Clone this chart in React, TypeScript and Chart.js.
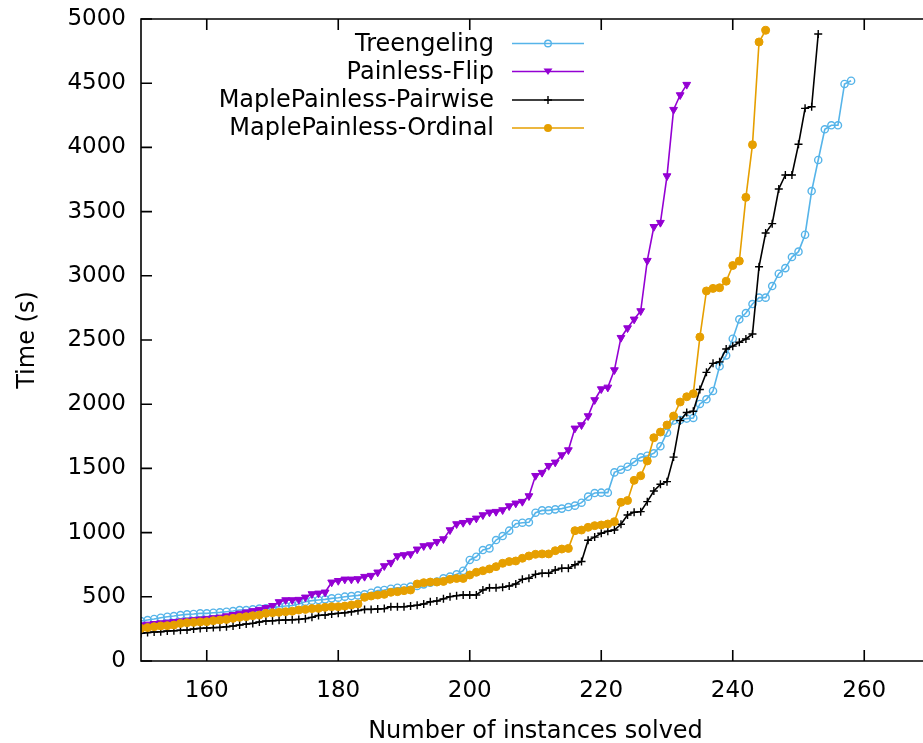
import React, { useEffect, useRef } from "react";
import { Chart, registerables } from "chart.js";

Chart.register(...registerables);

const START_X = 150;
const X_TICKS = [160, 180, 200, 220, 240, 260];
const Y_MAX = 5000;
const Y_STEP = 500;
const X_LABEL = "Number of instances solved";
const Y_LABEL = "Time (s)";

const seriesNames = ["Treengeling", "Painless-Flip", "MaplePainless-Pairwise", "MaplePainless-Ordinal"];
const seriesColors = ["#56B4E9", "#9400D3", "#000000", "#E69F00"];

const treengeling = [
  311, 319, 327, 337, 345, 350, 358, 363, 366, 371,
  371, 376, 379, 384, 389, 397, 397, 402, 408, 410,
  415, 423, 428, 432, 444, 462, 470, 475, 480, 488,
  493, 501, 506, 511, 519, 532, 548, 553, 563, 571,
  571, 579, 584, 597, 610, 618, 644, 657, 675, 703,
  787, 812, 864, 877, 942, 973, 1015, 1069, 1077, 1080,
  1155, 1173, 1173, 1181, 1187, 1199, 1210, 1233, 1280, 1308,
  1311, 1311, 1469, 1490, 1513, 1550, 1586, 1599, 1617, 1672,
  1778, 1873, 1877, 1888, 1893, 2002, 2038, 2103, 2295, 2380,
  2510, 2661, 2710, 2780, 2830, 2830, 2920, 3016, 3060, 3146,
  3188, 3320, 3660, 3902, 4141, 4172, 4172, 4494, 4519,
];

const painlessFlip = [
  280, 285, 290, 295, 300, 305, 310, 315, 320, 325,
  330, 335, 340, 350, 360, 370, 380, 390, 400, 415,
  430, 460, 475, 475, 478, 496, 522, 527, 535, 613,
  625, 636, 636, 639, 657, 665, 691, 740, 766, 818,
  826, 833, 870, 896, 903, 929, 950, 1020, 1067, 1077,
  1093, 1111, 1137, 1158, 1163, 1176, 1207, 1228, 1241, 1285,
  1443, 1467, 1521, 1547, 1604, 1643, 1812, 1838, 1908, 2033,
  2118, 2131, 2266, 2518, 2593, 2661, 2726, 3118, 3382, 3414,
  3777, 4294, 4408, 4489,
];

const pairwise = [
  215, 221, 226, 228, 234, 236, 239, 241, 249, 254,
  257, 260, 262, 267, 273, 280, 288, 293, 304, 311,
  314, 317, 319, 321, 324, 330, 340, 355, 358, 366,
  371, 376, 384, 392, 402, 402, 405, 408, 423, 423,
  423, 428, 434, 444, 462, 467, 484, 501, 509, 514,
  514, 514, 553, 571, 571, 574, 584, 600, 636, 644,
  675, 683, 683, 709, 722, 722, 750, 775, 940, 965,
  995, 1010, 1020, 1065, 1137, 1158, 1163, 1241, 1324, 1376,
  1397, 1588, 1872, 1935, 1945, 2114, 2248, 2318, 2330, 2430,
  2452, 2482, 2508, 2547, 3071, 3333, 3406, 3676, 3785, 3785,
  4024, 4304, 4317, 4883,
];

const ordinal = [
  254, 260, 267, 273, 275, 280, 293, 298, 301, 304,
  306, 314, 319, 324, 332, 340, 345, 353, 358, 371,
  376, 379, 384, 388, 397, 402, 408, 410, 418, 423,
  423, 428, 436, 444, 496, 506, 514, 519, 535, 540,
  548, 553, 600, 610, 615, 615, 620, 636, 643, 643,
  670, 691, 703, 717, 735, 761, 774, 779, 800, 818,
  831, 834, 834, 859, 872, 877, 1015, 1020, 1041, 1054,
  1059, 1067, 1085, 1236, 1250, 1407, 1443, 1558, 1739, 1783,
  1838, 1908, 2017, 2058, 2082, 2523, 2882, 2902, 2907, 2958,
  3080, 3115, 3611, 4021, 4821, 4912,
];

const seriesValues = [treengeling, painlessFlip, pairwise, ordinal];

const FONT = "DejaVu Sans";
const FS = 23;
const FS_TEXT = 24;

function drawMarker(ctx: CanvasRenderingContext2D, idx: number, x: number, y: number, color: string) {
  ctx.save();
  ctx.strokeStyle = color;
  ctx.fillStyle = color;
  ctx.lineWidth = 1.4;
  ctx.beginPath();
  if (idx === 0) {
    ctx.arc(x, y, 3.3, 0, Math.PI * 2);
    ctx.stroke();
  } else if (idx === 1) {
    ctx.moveTo(x - 4.5, y - 3);
    ctx.lineTo(x + 4.5, y - 3);
    ctx.lineTo(x, y + 3.5);
    ctx.closePath();
    ctx.fill();
  } else if (idx === 2) {
    ctx.moveTo(x - 4, y);
    ctx.lineTo(x + 4, y);
    ctx.moveTo(x, y - 4);
    ctx.lineTo(x, y + 4);
    ctx.stroke();
  } else {
    ctx.arc(x, y, 4, 0, Math.PI * 2);
    ctx.fill();
  }
  ctx.restore();
}

const framePlugin = {
  id: "gnuplotFrame",
  afterDraw(chart: any) {
    const ctx: CanvasRenderingContext2D = chart.ctx;
    const a = chart.chartArea;
    const xs = chart.scales.x;
    const ys = chart.scales.y;
    ctx.save();
    ctx.strokeStyle = "#000";
    ctx.lineWidth = 1.6;
    ctx.beginPath();
    ctx.rect(a.left, a.top, a.right - a.left, a.bottom - a.top);
    ctx.stroke();
    const TL = 11;
    ctx.beginPath();
    for (let v = 0; v <= Y_MAX; v += Y_STEP) {
      const py = ys.getPixelForValue(v);
      ctx.moveTo(a.left, py);
      ctx.lineTo(a.left + TL, py);
    }
    for (const v of X_TICKS) {
      const px = xs.getPixelForValue(v);
      ctx.moveTo(px, a.bottom);
      ctx.lineTo(px, a.bottom - TL);
      ctx.moveTo(px, a.top);
      ctx.lineTo(px, a.top + TL);
    }
    ctx.stroke();

    // legend
    ctx.font = `${FS_TEXT}px "${FONT}"`;
    ctx.fillStyle = "#000";
    ctx.textAlign = "right";
    ctx.textBaseline = "middle";
    const rowsY = [43.5, 71.5, 100, 128];
    seriesNames.forEach((name, i) => {
      const y = rowsY[i];
      ctx.fillStyle = "#000";
      ctx.fillText(name, 494, y + 1);
      ctx.strokeStyle = seriesColors[i];
      ctx.lineWidth = 1.6;
      ctx.beginPath();
      ctx.moveTo(512, y);
      ctx.lineTo(584, y);
      ctx.stroke();
      drawMarker(ctx, i, 548, y, seriesColors[i]);
    });

    // axis titles
    ctx.fillStyle = "#000";
    ctx.textAlign = "center";
    ctx.textBaseline = "middle";
    ctx.fillText(X_LABEL, (a.left + a.right) / 2, 732);
    ctx.translate(28, (a.top + a.bottom) / 2);
    ctx.rotate(-Math.PI / 2);
    ctx.fillText(Y_LABEL, 0, 0);
    ctx.restore();
  },
};

const pointStyles: any[] = ["circle", "triangle", "cross", "circle"];

export default function App() {
  const ref = useRef<HTMLCanvasElement>(null);
  useEffect(() => {
    if (!ref.current) return;
    Chart.defaults.font.family = FONT;
    const datasets = seriesNames.map((name, i) => ({
      label: name,
      data: seriesValues[i].map((v, k) => ({ x: START_X + k, y: v })),
      borderColor: seriesColors[i],
      backgroundColor: i === 0 ? "rgba(0,0,0,0)" : seriesColors[i],
      pointBorderColor: seriesColors[i],
      pointBackgroundColor: i === 0 ? "rgba(0,0,0,0)" : seriesColors[i],
      borderWidth: 1.6,
      pointStyle: pointStyles[i],
      pointRotation: i === 1 ? 180 : 0,
      pointRadius: i === 0 ? 3.6 : i === 1 ? 4.5 : i === 2 ? 4 : 4,
      pointBorderWidth: i === 0 ? 1.4 : i === 2 ? 1.4 : 1,
      tension: 0,
      fill: false,
      clip: 0,
      order: 4 - i,
    }));
    const chart = new Chart(ref.current, {
      type: "line",
      data: { datasets },
      options: {
        responsive: false,
        animation: false,
        events: [],
        layout: { padding: { left: 0, top: 19, right: 10, bottom: 0 } },
        plugins: { legend: { display: false }, tooltip: { enabled: false } },
        scales: {
          x: {
            type: "linear",
            min: 150,
            max: 270,
            afterBuildTicks: (s: any) => {
              s.ticks = X_TICKS.map((v) => ({ value: v }));
            },
            afterFit: (s: any) => {
              s.height = 82;
              s.paddingLeft = 0;
              s.paddingRight = 0;
            },
            grid: { display: false, drawTicks: false },
            border: { display: false },
            ticks: {
              padding: 16,
              color: "#000",
              font: { size: FS, family: FONT },
              maxRotation: 0,
              autoSkip: false,
              callback: (v: any) => String(v),
            },
          },
          y: {
            type: "linear",
            min: 0,
            max: Y_MAX,
            afterFit: (s: any) => {
              s.width = 141;
              s.paddingTop = 0;
              s.paddingBottom = 0;
            },
            grid: { display: false, drawTicks: false },
            border: { display: false },
            ticks: {
              stepSize: Y_STEP,
              padding: 15,
              color: "#000",
              font: { size: FS, family: FONT },
              callback: (v: any) => String(v),
            },
          },
        },
      },
      plugins: [framePlugin],
    });
    return () => chart.destroy();
  }, []);
  return (
    <div style={{ position: "absolute", left: 0, top: 0, width: 923, height: 743, overflow: "hidden", background: "#fff" }}>
      <canvas ref={ref} width={940} height={743} style={{ display: "block" }} />
    </div>
  );
}
